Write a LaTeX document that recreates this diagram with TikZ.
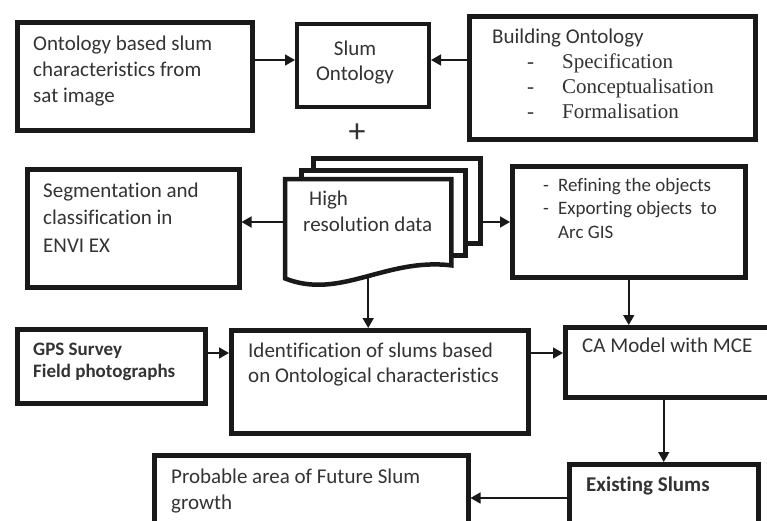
\documentclass[tikz,border=0pt]{standalone}
\usepackage{fontspec}
\setmainfont{Carlito}[Ligatures=NoCommon]
\newfontfamily\timesfont{Liberation Serif}
\usepackage{tikz}
\usetikzlibrary{arrows.meta}
\tikzset{
    Box/.style = {draw=black!90,line width=4.5pt,inner sep=0pt,anchor=north west},
    Sheet/.style = {Box,fill=white},
    Txt/.style = {anchor=base west,align=left,inner sep=0pt,text=black!80,
        font=\fontsize{21}{26}\selectfont},
    Arrow/.style = {draw=black!90,line width=1.6pt,
        -{Triangle[length=10pt,width=11pt]}}
}

\begin{document}
\begin{tikzpicture}[x=1pt,y=-1pt]
        \clip (0,0) rectangle (767,520);
        \fill[white] (0,0) rectangle (767,520);
        % boxes
        \node[Box,minimum width=235,minimum height=108] (A) at (15,20) {};
        \node[Box,line width=4pt,minimum width=132,minimum height=83] (B) at (295,22) {};
        \node[Box,minimum width=286,minimum height=123] (C) at (467,14) {};
        \node[Box,minimum width=212,minimum height=118] (D) at (25,167) {};
        \node[Box,minimum width=233,minimum height=111] (E) at (510,164) {};
        \node[Box,minimum width=188,minimum height=74] (F) at (15,327) {};
        \node[Box,minimum width=297,minimum height=103] (G) at (229,328) {};
        \node[Box,minimum width=230,minimum height=70] (H) at (563,325) {};
        \node[Box,minimum width=189,minimum height=80] (I) at (567,462) {};
        \node[Box,minimum width=314,minimum height=90] (J) at (152,453) {};
        % stacked data sheets
        \node[Sheet,minimum width=167,minimum height=85] (HRback) at (311,156) {};
        \node[Sheet,minimum width=164,minimum height=85] (HRmid) at (299,168) {};
        \node[anchor=north west,inner sep=0pt,minimum width=166,minimum height=86] (HR) at (285,179) {};
        \draw[draw=black!90,line width=4.5pt,fill=white] (HR.north west) -- (HR.north east)
            -- (HR.south east) .. controls +(-66,-8) and +(55,22) .. ([yshift=-13pt]HR.south west) -- cycle;
        % texts (placed at the baseline of their last line)
        \node[Txt] (A-txt) at (33,102) {Ontology based slum\\characteristics from\\sat image};
        \node[Txt,anchor=base,align=center,font=\fontsize{21}{25}\selectfont] (B-txt) at (355,80) {Slum\\Ontology};
        \node[Txt,font=\fontsize{21}{25}\selectfont] (C-txt) at (492,118) {Building Ontology\\
            \hspace*{35pt}{\timesfont\makebox[35pt][l]{-}Specification}\\
            \hspace*{35pt}{\timesfont\makebox[35pt][l]{-}Conceptualisation}\\
            \hspace*{35pt}{\timesfont\makebox[35pt][l]{-}Formalisation}};
        \node[Txt,anchor=center,font=\fontsize{34}{34}\selectfont] (plus) at (357,133) {+};
        \node[Txt,font=\fontsize{21}{27.5}\selectfont] (D-txt) at (43,252) {Segmentation and\\classification in\\ENVI EX};
        \node[Txt] (HR-txt) at (303,231) {\hspace*{6pt}High\\resolution data};
        \node[Txt,font=\fontsize{19}{23.5}\selectfont] (E-txt) at (543,238) {\makebox[15pt][l]{-}Refining the objects\\
            \makebox[15pt][l]{-}Exporting objects\ \ to\\\hspace*{15pt}Arc GIS};
        \node[Txt,font=\fontsize{19}{22}\selectfont\bfseries] (F-txt) at (33,377) {GPS Survey\\Field photographs};
        \node[Txt,font=\fontsize{21}{25}\selectfont] (G-txt) at (248,382) {Identification of slums based\\on Ontological characteristics};
        \node[Txt] (H-txt) at (582,352) {CA Model with MCE};
        \node[Txt,font=\fontsize{21}{26}\selectfont\bfseries] (I-txt) at (586,491) {Existing Slums};
        \node[Txt] (J-txt) at (171,509) {Probable area of Future Slum\\growth};
        % connectors
        \coordinate (r1) at (0,60);
        \coordinate (r2) at (0,222);
        \coordinate (r3) at (0,353);
        \coordinate (r4) at (0,498);
        \draw[Arrow] (A.east |- r1) -- (B.west |- r1);
        \draw[Arrow] (C.west |- r1) -- (B.east |- r1);
        \draw[Arrow] (HR.west |- r2) -- (D.east |- r2);
        \draw[Arrow] (HRback.east |- r2) -- (E.west |- r2);
        \draw[Arrow] ([yshift=-13pt]HR.south) -- (HR.south |- G.north);
        \draw[Arrow] (E.south) -- (E.south |- H.north);
        \draw[Arrow] (F.east |- r3) -- (G.west |- r3);
        \draw[Arrow] (G.east |- r3) -- (H.west |- r3);
        \draw[Arrow] (H.south -| I.north) -- (I.north);
        \draw[Arrow] (I.west |- r4) -- (J.east |- r4);
\end{tikzpicture}
\end{document}
